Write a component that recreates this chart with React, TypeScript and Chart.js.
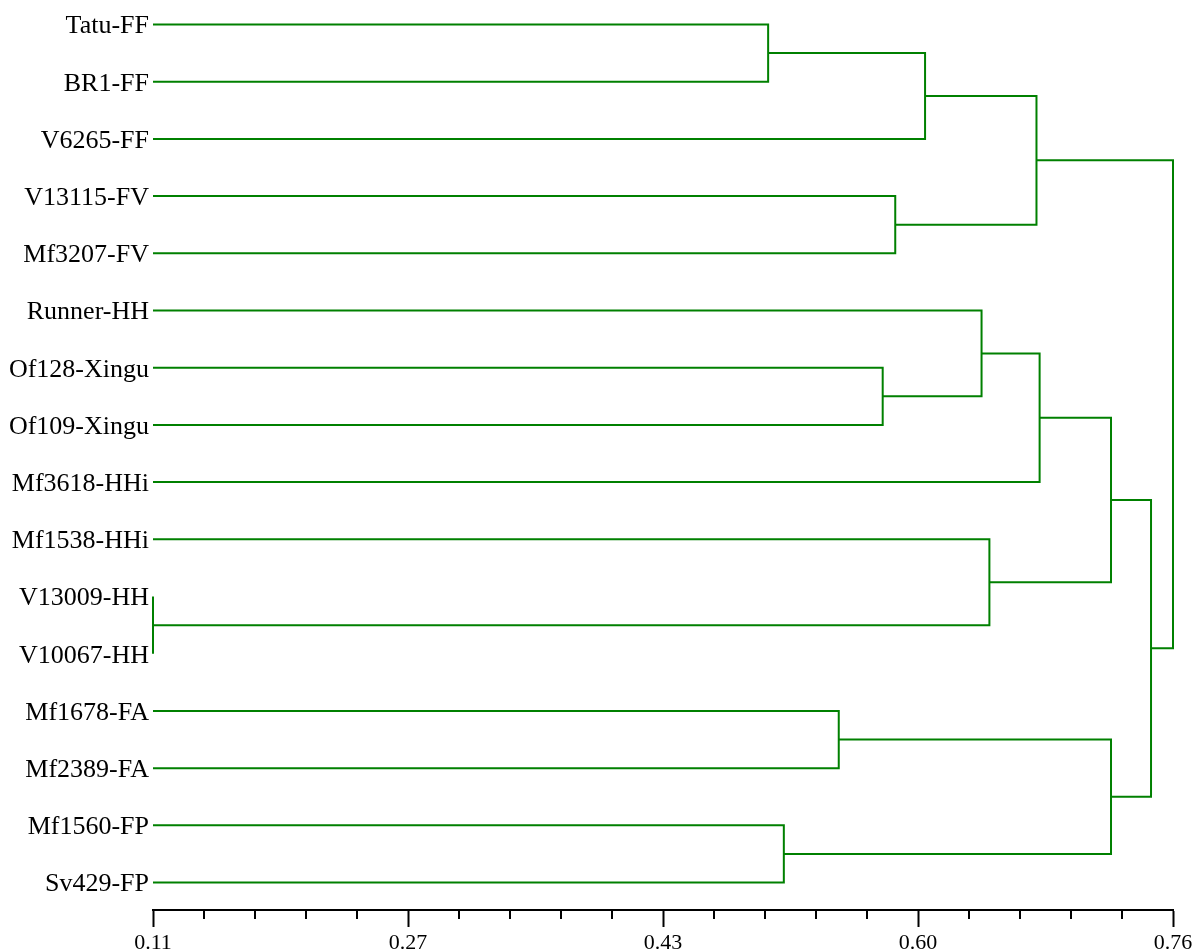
import React, { useEffect, useRef } from "react";
import { Chart, registerables } from "chart.js";

Chart.register(...registerables);

const leaves = [
  "Tatu-FF", "BR1-FF", "V6265-FF", "V13115-FV", "Mf3207-FV",
  "Runner-HH", "Of128-Xingu", "Of109-Xingu", "Mf3618-HHi", "Mf1538-HHi",
  "V13009-HH", "V10067-HH", "Mf1678-FA", "Mf2389-FA", "Mf1560-FP", "Sv429-FP",
];

// merges: child A, child B (index < 16 = leaf, else 16 + merge index), merge height
const mergeLeft = [0, 16, 3, 17, 6, 5, 21, 10, 9, 22, 12, 14, 26, 25, 19];
const mergeRight = [1, 2, 4, 18, 7, 20, 8, 11, 23, 24, 13, 15, 27, 28, 29];
const mergeHeight = [0.502, 0.602, 0.583, 0.673, 0.575, 0.638, 0.675, 0.11, 0.643, 0.7205, 0.547, 0.512, 0.7205, 0.746, 0.76];

const xMin = 0.11;
const xMax = 0.76;
const xMajorTicks = [0.11, 0.2725, 0.435, 0.5975, 0.76];
const xTickLabels = ["0.11", "0.27", "0.43", "0.60", "0.76"];
const xMinorStep = 0.0325;

const LINE_COLOR = "#008000";

function buildDatasets() {
  const nodeY: number[] = leaves.map((_, i) => i);
  const nodeH: number[] = leaves.map(() => xMin);
  const sets: any[] = [];
  mergeHeight.forEach((h, k) => {
    const a = mergeLeft[k];
    const b = mergeRight[k];
    const ya = nodeY[a];
    const yb = nodeY[b];
    sets.push({
      data: [
        { x: nodeH[a], y: ya },
        { x: h, y: ya },
        { x: h, y: yb },
        { x: nodeH[b], y: yb },
      ],
      borderColor: LINE_COLOR,
      borderWidth: 2,
      pointRadius: 0,
      pointHoverRadius: 0,
      fill: false,
      tension: 0,
      clip: false,
      borderJoinStyle: "miter",
    });
    nodeY.push((ya + yb) / 2);
    nodeH.push(h);
  });
  return sets;
}

const minorTicksPlugin = {
  id: "minorTicks",
  afterDraw(chart: any) {
    const sx = chart.scales.x;
    const ctx = chart.ctx;
    const yb = chart.chartArea.bottom;
    ctx.save();
    ctx.strokeStyle = "#000";
    ctx.lineWidth = 2;
    const n = Math.round((xMax - xMin) / xMinorStep);
    for (let k = 0; k <= n; k++) {
      if (k % 5 === 0) continue;
      const px = Math.round(sx.getPixelForValue(xMin + k * xMinorStep));
      ctx.beginPath();
      ctx.moveTo(px, yb);
      ctx.lineTo(px, yb + 9);
      ctx.stroke();
    }
    ctx.restore();
  },
};

export default function App() {
  const ref = useRef<HTMLCanvasElement | null>(null);
  useEffect(() => {
    if (!ref.current) return;
    const chart = new Chart(ref.current, {
      type: "line",
      data: { datasets: buildDatasets() },
      options: {
        animation: false,
        responsive: false,
        devicePixelRatio: 1,
        layout: { padding: { top: 24.5, right: 25, left: 0, bottom: 0 } },
        plugins: { legend: { display: false }, tooltip: { enabled: false } },
        scales: {
          x: {
            type: "linear",
            min: xMin,
            max: xMax,
            afterBuildTicks: (scale: any) => {
              scale.ticks = xMajorTicks.map((v) => ({ value: v }));
            },
            afterFit: (scale: any) => {
              scale.height = 39;
            },
            ticks: {
              autoSkip: false,
              maxRotation: 0,
              padding: 3,
              color: "#000",
              font: { family: "Liberation Serif", size: 22 },
              callback: (_v: any, i: number) => xTickLabels[i],
            },
            grid: {
              drawOnChartArea: false,
              drawTicks: true,
              tickLength: 17,
              tickColor: "#000",
              tickWidth: 2,
            },
            border: { display: true, color: "#000", width: 2 },
          },
          y: {
            type: "linear",
            reverse: true,
            min: 0,
            max: 15.48,
            afterBuildTicks: (scale: any) => {
              scale.ticks = leaves.map((_, i) => ({ value: i }));
            },
            afterFit: (scale: any) => {
              scale.width = 153;
            },
            ticks: {
              autoSkip: false,
              padding: 4,
              labelOffset: 2,
              color: "#000",
              font: { family: "Liberation Serif", size: 26 },
              callback: (v: any) => leaves[Math.round(Number(v))],
            },
            grid: { display: false, drawTicks: false },
            border: { display: false },
          },
        },
      },
      plugins: [minorTicksPlugin],
    } as any);
    return () => chart.destroy();
  }, []);
  return (
    <div style={{ position: "fixed", left: 0, top: 0, width: 1198, height: 949, background: "#fff" }}>
      <canvas ref={ref} width={1198} height={949} />
    </div>
  );
}
